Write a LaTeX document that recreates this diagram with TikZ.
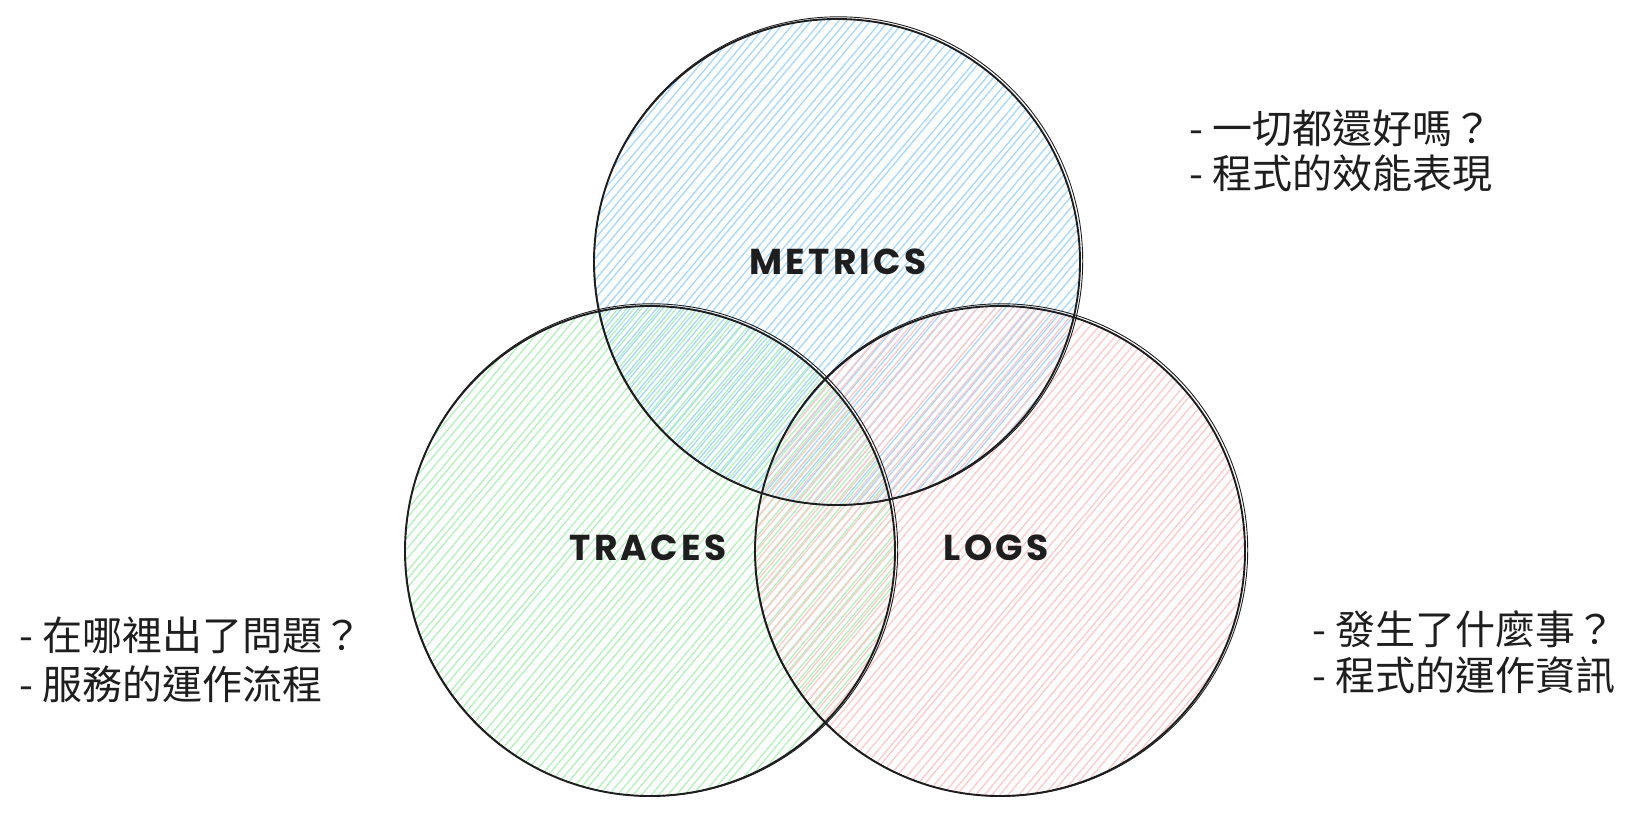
\documentclass[tikz,border=0pt]{standalone}
\usepackage{fontspec}
\usetikzlibrary{calc}
\newfontfamily\cjk{Noto Sans CJK TC}
\newfontfamily\labelfont{Poppins}[LetterSpace=9]
\definecolor{ink}{HTML}{1E1E1E}
\definecolor{hblue}{HTML}{A5D8FF}
\definecolor{hgreen}{HTML}{B2F2BB}
\definecolor{hred}{HTML}{FFC9C9}

\tikzset{
  hatch/.style={line width=1.3pt},
  setlabel/.style={inner sep=0pt, text=ink,
    font=\labelfont\bfseries\fontsize{36}{36}\selectfont},
  outline/.style={draw=ink, line width=1.9pt},
  sketch/.style={draw=ink, line width=0.9pt},
  note/.style={anchor=west, inner sep=0pt, text=ink, font=\cjk\fontsize{40}{45}\selectfont},
}

\begin{document}
\begin{tikzpicture}[x=1pt,y=-1pt]
\useasboundingbox (0,0) rectangle (1636,813);
\pgfmathsetseed{42}

% centres of the three sets
\coordinate (mc) at (837,262);
\coordinate (tc) at (650,551);
\coordinate (lc) at (1000,551);

% hatching: slightly uneven strokes rising to the right, clipped to each disc
\foreach \c/\r/\col in {mc/243/hblue, tc/245/hgreen, lc/245/hred}{
  \begin{scope}
    \clip (\c) circle[radius=\r];
    \foreach \s in {-252,-245.5,...,252}{
      \pgfmathsetmacro{\a}{\s+1.3*rand}
      \pgfmathsetmacro{\b}{\s+1.3*rand}
      \draw[hatch, \col]
        ($(\c)+({\a*0.766-260*0.643},{\a*0.643+260*0.766})$) --
        ($(\c)+({\b*0.766+260*0.643},{\b*0.643-260*0.766})$);
    }
  \end{scope}
}

% hand-drawn outlines, each traced twice
\foreach \c/\r in {mc/243, tc/245, lc/245}{
  \draw[outline] (\c) circle[radius=\r];
  \draw[sketch] ($(\c)+(1.5,-1)$) circle[radius=\r+1.2];
}

% set names
\node[setlabel] (m) at (838,262) {METRICS};
\node[setlabel] (t) at (648,548) {TRACES};
\node[setlabel] (l) at (996,548) {LOGS};

% notes beside each set
\node[note] (m1) at (1189,128) {- 一切都還好嗎？};
\node[note] (m2) at (1189,173) {- 程式的效能表現};
\node[note] (t1) at (19,635) {- 在哪裡出了問題？};
\node[note] (t2) at (19,684) {- 服務的運作流程};
\node[note] (l1) at (1312,629) {- 發生了什麼事？};
\node[note] (l2) at (1312,675) {- 程式的運作資訊};
\end{tikzpicture}
\end{document}
